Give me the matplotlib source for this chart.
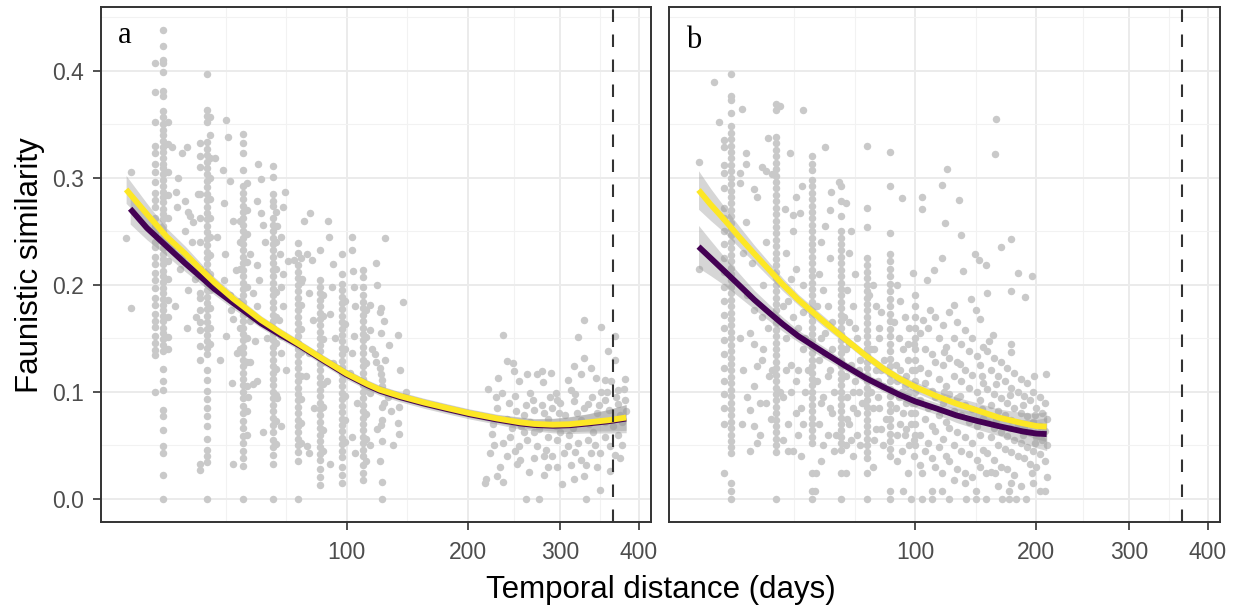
import numpy as np
import matplotlib.pyplot as plt

plt.rcParams['font.family'] = ['Liberation Sans', 'DejaVu Sans']

# ---------------- panel a : faunistic similarity vs temporal distance ----------------
a_col12 = [0.407, 0.380, 0.352, 0.330, 0.323, 0.313, 0.305, 0.296, 0.286, 0.279, 0.273, 0.262, 0.255,
           0.248, 0.240, 0.235, 0.226, 0.219, 0.211, 0.204, 0.197, 0.188, 0.181, 0.173, 0.166, 0.161,
           0.152, 0.146, 0.139, 0.134, 0.100]
a_col14 = [0.438, 0.423, 0.410, 0.407, 0.399, 0.381, 0.376, 0.362, 0.357, 0.350, 0.345, 0.340, 0.334,
           0.329, 0.324, 0.318, 0.313, 0.309, 0.303, 0.298, 0.292, 0.287, 0.282, 0.277, 0.271, 0.266,
           0.261, 0.255, 0.250, 0.245, 0.240, 0.234, 0.229, 0.224, 0.219, 0.213, 0.208, 0.203, 0.197,
           0.192, 0.187, 0.181, 0.176, 0.171, 0.166, 0.160, 0.155, 0.149, 0.144, 0.138, 0.121, 0.110,
           0.102, 0.083, 0.077, 0.064, 0.049, 0.043, 0.022, 0.0]
a_col15 = [0.352, 0.331, 0.305, 0.284, 0.262, 0.241, 0.222, 0.205, 0.186, 0.170, 0.151, 0.140]
a_col25 = [0.332, 0.320, 0.310, 0.285, 0.262, 0.240, 0.215, 0.192, 0.188, 0.176, 0.165, 0.158, 0.143,
           0.130, 0.027, 0.033]
a_col27 = [0.397, 0.363, 0.358, 0.352, 0.333, 0.327, 0.321, 0.315, 0.309, 0.303, 0.297, 0.291, 0.285,
           0.279, 0.273, 0.267, 0.261, 0.255, 0.249, 0.243, 0.237, 0.231, 0.225, 0.219, 0.213, 0.207,
           0.201, 0.195, 0.189, 0.183, 0.177, 0.171, 0.165, 0.159, 0.153, 0.147, 0.141, 0.135, 0.120,
           0.111, 0.101, 0.093, 0.085, 0.077, 0.068, 0.056, 0.046, 0.040, 0.034, 0.0]
a_col28 = [0.357, 0.340, 0.318, 0.300, 0.280, 0.262, 0.245, 0.228, 0.210, 0.195, 0.178, 0.160, 0.145]
a_col40 = [0.260, 0.240, 0.215, 0.185, 0.160, 0.140]
a_col42 = [0.341, 0.332, 0.323, 0.307, 0.292, 0.286, 0.280, 0.274, 0.268, 0.262, 0.256, 0.250, 0.244,
           0.238, 0.232, 0.226, 0.220, 0.214, 0.208, 0.202, 0.196, 0.190, 0.184, 0.178, 0.172, 0.166,
           0.160, 0.154, 0.148, 0.142, 0.136, 0.130, 0.124, 0.118, 0.112, 0.106, 0.100, 0.094, 0.087,
           0.080, 0.073, 0.066, 0.059, 0.052, 0.045, 0.038, 0.031, 0.0]
a_col43 = [0.295, 0.270, 0.247, 0.221, 0.198, 0.175, 0.150, 0.128, 0.105, 0.082, 0.060]
a_col56 = [0.311, 0.301, 0.285, 0.278, 0.274, 0.262, 0.256, 0.250, 0.244, 0.238, 0.232, 0.226, 0.220,
           0.214, 0.208, 0.202, 0.196, 0.190, 0.184, 0.178, 0.172, 0.166, 0.160, 0.154, 0.148, 0.142,
           0.136, 0.130, 0.124, 0.118, 0.112, 0.106, 0.100, 0.094, 0.088, 0.082, 0.076, 0.069, 0.062,
           0.055, 0.048, 0.041, 0.033, 0.0]
a_col57 = [0.268, 0.240, 0.215, 0.193, 0.170, 0.146, 0.121, 0.097, 0.073, 0.051]
a_col70 = [0.239, 0.230, 0.218, 0.212, 0.206, 0.200, 0.194, 0.188, 0.182, 0.176, 0.170, 0.164, 0.158,
           0.152, 0.146, 0.140, 0.134, 0.128, 0.122, 0.116, 0.110, 0.104, 0.098, 0.092, 0.086, 0.080,
           0.074, 0.068, 0.062, 0.056, 0.050, 0.044, 0.035, 0.0]
a_col71 = [0.225, 0.203, 0.181, 0.159, 0.137, 0.115, 0.093, 0.071, 0.052]
a_col84 = [0.232, 0.204, 0.198, 0.192, 0.186, 0.180, 0.174, 0.168, 0.162, 0.156, 0.150, 0.144, 0.138,
           0.132, 0.126, 0.120, 0.114, 0.108, 0.102, 0.096, 0.090, 0.084, 0.078, 0.072, 0.066, 0.060,
           0.054, 0.048, 0.042, 0.036, 0.028, 0.020, 0.013]
a_col85 = [0.190, 0.171, 0.149, 0.128, 0.107, 0.086, 0.064, 0.045]
a_col98 = [0.229, 0.210, 0.201, 0.195, 0.189, 0.183, 0.177, 0.171, 0.165, 0.159, 0.153, 0.147, 0.141,
           0.135, 0.129, 0.123, 0.117, 0.111, 0.105, 0.099, 0.093, 0.087, 0.081, 0.075, 0.069, 0.063,
           0.057, 0.051, 0.045, 0.039, 0.030, 0.022, 0.015]
a_col99 = [0.185, 0.163, 0.140, 0.118, 0.096, 0.074, 0.053]
a_col112 = [0.214, 0.207, 0.198, 0.190, 0.184, 0.178, 0.172, 0.166, 0.160, 0.154, 0.148, 0.142, 0.136,
            0.130, 0.124, 0.118, 0.112, 0.106, 0.100, 0.094, 0.088, 0.082, 0.076, 0.070, 0.064, 0.058,
            0.052, 0.046, 0.040, 0.032, 0.024, 0.018]
a_col114 = [0.176, 0.151, 0.127, 0.104, 0.079, 0.056, 0.035]

a_columns = [(11.8, a_col12), (13.9, a_col14), (15.2, a_col15), (24.8, a_col25), (27.1, a_col27),
             (28.3, a_col28), (40.3, a_col40), (41.8, a_col42), (43.2, a_col43), (55.7, a_col56),
             (57.3, a_col57), (69.6, a_col70), (71.4, a_col71), (82.6, a_col84), (84.6, a_col85),
             (96.6, a_col98), (98.8, a_col99), (111.7, a_col112), (114.0, a_col114)]

a_extra = [(6.0, 0.244), (6.8, 0.305), (6.8, 0.178),
           (16.1, 0.329), (18.9, 0.323), (20.7, 0.329), (17.4, 0.287), (19.8, 0.278), (17.6, 0.273),
           (21.0, 0.268), (21.5, 0.264), (22.5, 0.259), (24.2, 0.285), (18.0, 0.300), (20.0, 0.250),
           (22.0, 0.240), (16.5, 0.236), (19.0, 0.226), (23.0, 0.205), (21.0, 0.195), (17.0, 0.180),
           (18.5, 0.215), (23.5, 0.170), (20.5, 0.160),
           (34.4, 0.354), (35.3, 0.338), (33.2, 0.307), (33.8, 0.276), (36.0, 0.297), (37.5, 0.260),
           (34.0, 0.229), (33.5, 0.204), (36.0, 0.190), (36.5, 0.176), (37.5, 0.168), (34.5, 0.152),
           (39.0, 0.136), (37.0, 0.108), (37.5, 0.033), (31.0, 0.245), (30.0, 0.318), (38.5, 0.214),
           (32.0, 0.130),
           (48.5, 0.313), (50.0, 0.299), (48.0, 0.278), (50.0, 0.267), (51.0, 0.256), (45.0, 0.229),
           (48.0, 0.218), (49.0, 0.204), (46.0, 0.192), (48.0, 0.180), (45.0, 0.166), (47.0, 0.147),
           (45.0, 0.128), (48.0, 0.110), (46.0, 0.107), (52.0, 0.240), (53.0, 0.150), (44.0, 0.095),
           (51.0, 0.062),
           (62.0, 0.287), (61.0, 0.273), (58.0, 0.255), (60.0, 0.245), (59.5, 0.229), (61.0, 0.210),
           (60.0, 0.198), (61.0, 0.180), (59.0, 0.167), (60.0, 0.152), (60.0, 0.136), (60.0, 0.068),
           (63.0, 0.120), (58.0, 0.094), (64.0, 0.222),
           (76.4, 0.267), (73.0, 0.260), (75.0, 0.229), (77.5, 0.223), (76.0, 0.192), (78.0, 0.167),
           (76.0, 0.136), (75.0, 0.049), (76.0, 0.043), (67.0, 0.223), (74.0, 0.115), (79.0, 0.085),
           (72.0, 0.205),
           (87.7, 0.260), (88.5, 0.245), (91.0, 0.219), (90.5, 0.198), (89.0, 0.173), (91.0, 0.127),
           (89.0, 0.033), (92.0, 0.150), (87.0, 0.110),
           (103.4, 0.245), (104.0, 0.232), (104.5, 0.213), (105.0, 0.198), (106.0, 0.180),
           (105.0, 0.152), (104.0, 0.136), (104.0, 0.058), (106.0, 0.043), (102.0, 0.118), (107.0, 0.090),
           (121.0, 0.220), (116.5, 0.181), (117.0, 0.158), (117.0, 0.099), (117.0, 0.050), (128.0, 0.244),
           (125.0, 0.178), (124.0, 0.175), (127.0, 0.166), (125.0, 0.155), (131.0, 0.144), (124.0, 0.122),
           (125.0, 0.117), (126.0, 0.111), (126.0, 0.105), (126.0, 0.086), (126.0, 0.074), (125.0, 0.069),
           (126.0, 0.054), (126.0, 0.016), (126.0, 0.0), (142.0, 0.184), (138.0, 0.153), (139.0, 0.086),
           (138.0, 0.071), (139.0, 0.061), (134.0, 0.050), (122.0, 0.200), (120.0, 0.135), (130.0, 0.095),
           (122.0, 0.065), (128.0, 0.130), (140.0, 0.120), (145.0, 0.100), (118.0, 0.140), (124.0, 0.035),
           (133.0, 0.082), (121.0, 0.128), (127.0, 0.090)]

a_late = [(235.4, 0.153), (328.0, 0.167), (350.5, 0.161), (321.6, 0.151), (359.2, 0.138), (368.0, 0.152),
          (368.0, 0.130), (329.2, 0.132), (315.8, 0.124), (337.6, 0.122), (239.7, 0.129), (246.0, 0.127),
          (230.8, 0.113), (247.0, 0.119), (252.5, 0.110), (261.8, 0.117), (273.0, 0.117), (279.0, 0.119),
          (288.5, 0.118), (279.5, 0.109), (220.5, 0.103), (234.3, 0.099), (249.0, 0.096), (265.5, 0.099),
          (308.5, 0.111), (325.0, 0.117), (344.0, 0.113), (354.8, 0.111), (363.6, 0.110), (381.4, 0.112),
          (380.0, 0.103), (294.4, 0.099), (312.5, 0.102), (350.5, 0.100), (260.0, 0.088), (269.3, 0.083),
          (280.7, 0.080), (296.4, 0.092), (316.6, 0.091), (333.4, 0.089), (354.8, 0.092), (372.4, 0.089),
          (223.9, 0.061), (236.0, 0.052), (243.3, 0.058), (252.5, 0.049), (261.8, 0.055), (273.0, 0.049),
          (282.6, 0.046), (296.4, 0.055), (308.5, 0.049), (320.8, 0.052), (333.4, 0.055), (354.8, 0.058),
          (361.4, 0.049), (222.0, 0.043), (239.7, 0.040), (254.3, 0.036), (269.3, 0.038), (280.7, 0.040),
          (304.4, 0.043), (325.0, 0.036), (337.6, 0.043), (348.4, 0.043), (368.0, 0.041), (232.5, 0.030),
          (250.7, 0.033), (296.4, 0.030), (312.5, 0.032), (331.3, 0.032), (361.4, 0.026), (216.7, 0.015),
          (218.4, 0.019), (229.0, 0.021), (236.0, 0.016), (280.7, 0.022), (302.4, 0.014), (316.6, 0.019),
          (329.2, 0.021), (348.4, 0.008), (260.0, 0.0), (275.0, 0.0), (331.3, 0.0),
          (225.0, 0.070), (240.0, 0.075), (255.0, 0.068), (265.0, 0.072), (275.0, 0.065), (285.0, 0.075),
          (295.0, 0.068), (305.0, 0.078), (315.0, 0.066), (325.0, 0.074), (335.0, 0.070), (345.0, 0.080),
          (355.0, 0.072), (365.0, 0.068), (375.0, 0.078), (383.0, 0.082), (230.0, 0.085), (250.0, 0.082),
          (290.0, 0.085), (310.0, 0.060), (340.0, 0.062), (370.0, 0.095), (378.0, 0.072), (360.0, 0.083),
          (245.0, 0.066), (300.0, 0.090), (285.0, 0.058), (320.0, 0.080), (270.0, 0.062),
          (228.0, 0.095), (242.0, 0.090), (258.0, 0.078), (268.0, 0.092), (278.0, 0.088), (288.0, 0.095),
          (298.0, 0.080), (318.0, 0.098), (328.0, 0.085), (338.0, 0.095), (348.0, 0.088), (358.0, 0.100),
          (372.0, 0.102), (382.0, 0.092), (226.0, 0.050), (248.0, 0.045), (258.0, 0.062), (290.0, 0.040),
          (300.0, 0.062), (318.0, 0.044), (342.0, 0.050), (372.0, 0.060), (378.0, 0.050), (264.0, 0.025),
          (286.0, 0.030), (345.0, 0.030), (375.0, 0.038)]

# fitted curves (yellow / purple) and their confidence half-widths, panel a
a_fit_days = [6.0, 10, 14.7, 20, 24.8, 30, 37.4, 50, 60, 70.6, 85, 100, 115, 124, 140, 160, 180, 202, 230,
              254, 270, 291, 310, 332, 360, 383]
a_yellow = [0.289, 0.266, 0.245, 0.229, 0.215, 0.202, 0.187, 0.167, 0.155, 0.144, 0.130, 0.117, 0.107,
            0.102, 0.096, 0.090, 0.085, 0.080, 0.075, 0.0715, 0.070, 0.0693, 0.0697, 0.0713, 0.0735, 0.076]
a_purple_days = [6.7, 10, 14.7, 20, 24.8, 30, 37.4, 50, 60, 70.6, 85, 100, 115, 124, 140, 160, 180, 202,
                 230, 254, 270, 291, 310, 332, 360, 383]
a_purple = [0.271, 0.253, 0.236, 0.220, 0.208, 0.196, 0.183, 0.164, 0.153, 0.143, 0.129, 0.116, 0.106,
            0.101, 0.095, 0.089, 0.084, 0.079, 0.074, 0.0705, 0.069, 0.0683, 0.0687, 0.0703, 0.0725, 0.075]
a_se = [0.013, 0.010, 0.008, 0.007, 0.006, 0.005, 0.005, 0.004, 0.004, 0.004, 0.004, 0.004, 0.004, 0.004,
        0.004, 0.004, 0.004, 0.004, 0.004, 0.005, 0.005, 0.006, 0.007, 0.008, 0.010, 0.012]

# ---------------- panel b ----------------
b_col12 = [0.335, 0.329, 0.312, 0.304, 0.290, 0.272, 0.262, 0.250, 0.238, 0.225, 0.212, 0.198, 0.185,
           0.172, 0.160, 0.148, 0.135, 0.122, 0.110, 0.098, 0.085, 0.070, 0.024]
b_col14 = [0.397, 0.376, 0.373, 0.360, 0.348, 0.342, 0.336, 0.330, 0.324, 0.318, 0.312, 0.306, 0.300,
           0.294, 0.288, 0.282, 0.276, 0.270, 0.264, 0.258, 0.252, 0.246, 0.240, 0.234, 0.228, 0.222,
           0.216, 0.210, 0.204, 0.198, 0.192, 0.186, 0.180, 0.174, 0.168, 0.162, 0.156, 0.150, 0.144,
           0.138, 0.132, 0.126, 0.120, 0.114, 0.108, 0.102, 0.096, 0.090, 0.084, 0.078, 0.072, 0.066,
           0.060, 0.054, 0.048, 0.043, 0.015, 0.007, 0.0]
b_col27 = [0.369, 0.363, 0.338, 0.332, 0.326, 0.320, 0.314, 0.308, 0.302, 0.296, 0.290, 0.284, 0.278,
           0.272, 0.266, 0.260, 0.254, 0.248, 0.242, 0.236, 0.230, 0.224, 0.218, 0.212, 0.206, 0.200,
           0.194, 0.188, 0.182, 0.176, 0.170, 0.164, 0.158, 0.152, 0.146, 0.140, 0.134, 0.128, 0.122,
           0.116, 0.110, 0.104, 0.098, 0.092, 0.086, 0.080, 0.074, 0.068, 0.062, 0.056, 0.050, 0.044, 0.0]
b_col42 = [0.320, 0.313, 0.307, 0.298, 0.292, 0.286, 0.280, 0.274, 0.268, 0.262, 0.256, 0.250, 0.244,
           0.238, 0.232, 0.226, 0.220, 0.214, 0.208, 0.202, 0.196, 0.190, 0.184, 0.178, 0.172, 0.166,
           0.160, 0.154, 0.148, 0.142, 0.136, 0.130, 0.124, 0.118, 0.112, 0.106, 0.100, 0.094, 0.088,
           0.082, 0.076, 0.070, 0.064, 0.058, 0.052, 0.024, 0.007, 0.0]
b_col55 = [0.292, 0.278, 0.264, 0.250, 0.244, 0.238, 0.232, 0.226, 0.220, 0.214, 0.208, 0.202, 0.196,
           0.190, 0.184, 0.178, 0.172, 0.166, 0.160, 0.154, 0.148, 0.142, 0.136, 0.130, 0.124, 0.118,
           0.112, 0.106, 0.100, 0.094, 0.088, 0.082, 0.076, 0.070, 0.064, 0.058, 0.052, 0.046, 0.024, 0.0]
b_col70 = [0.330, 0.272, 0.254, 0.225, 0.218, 0.212, 0.206, 0.200, 0.194, 0.188, 0.182, 0.176, 0.170,
           0.164, 0.158, 0.152, 0.146, 0.140, 0.134, 0.128, 0.122, 0.116, 0.110, 0.104, 0.098, 0.092,
           0.086, 0.080, 0.074, 0.068, 0.062, 0.056, 0.050, 0.044, 0.038, 0.024, 0.0]
b_col84 = [0.324, 0.292, 0.248, 0.229, 0.222, 0.215, 0.208, 0.201, 0.194, 0.187, 0.180, 0.173, 0.166,
           0.159, 0.152, 0.145, 0.138, 0.131, 0.124, 0.117, 0.110, 0.103, 0.096, 0.089, 0.082, 0.075,
           0.068, 0.061, 0.054, 0.047, 0.040, 0.007, 0.0]
b_col100 = [0.190, 0.180, 0.170, 0.160, 0.150, 0.140, 0.130, 0.120, 0.110, 0.100, 0.090, 0.080, 0.070,
            0.060, 0.050]

b_columns = [(12.0, b_col12), (13.6, b_col14), (27.5, b_col27), (41.7, b_col42), (55.4, b_col55),
             (69.5, b_col70), (83.7, b_col84), (100.0, b_col100)]

# later lags of panel b are spread out rather than in clean columns
b_late = [(103, [0.155, 0.122, 0.092, 0.060, 0.032]), (106.5, [0.140, 0.108, 0.075, 0.045]),
          (109, [0.160, 0.118, 0.085, 0.052]), (111.5, [0.135, 0.101, 0.068, 0.038]),
          (114, [0.170, 0.128, 0.095, 0.063, 0.030]), (117, [0.150, 0.112, 0.078, 0.048]),
          (119.5, [0.162, 0.125, 0.090, 0.056]), (120.5, [0.137, 0.100]),
          (122, [0.142, 0.105, 0.072, 0.040]), (124.5, [0.175, 0.132, 0.098, 0.066, 0.035]),
          (128, [0.150, 0.115, 0.082, 0.050, 0.018]), (130.5, [0.165, 0.128, 0.094, 0.062, 0.028]),
          (133, [0.126, 0.096]), (134, [0.145, 0.110, 0.078, 0.045]),
          (136.5, [0.158, 0.120, 0.088, 0.058, 0.015]), (140, [0.138, 0.104, 0.072, 0.042]),
          (142.5, [0.150, 0.116, 0.084, 0.052, 0.020]), (146.5, [0.133, 0.100, 0.068, 0.036]),
          (149, [0.168, 0.125, 0.092, 0.060, 0.030]), (151, [0.115, 0.084]),
          (152, [0.142, 0.108, 0.076, 0.046]), (155, [0.138, 0.103, 0.072, 0.043]),
          (158.5, [0.120, 0.088, 0.058, 0.025]), (161, [0.132, 0.098, 0.066, 0.036]),
          (163, [0.107, 0.074]), (164.5, [0.115, 0.082, 0.050, 0.012]),
          (167, [0.128, 0.094, 0.062, 0.030]), (170.5, [0.110, 0.078, 0.047]),
          (173, [0.122, 0.090, 0.059, 0.028]), (175, [0.097, 0.066]),
          (176.5, [0.104, 0.074, 0.044, 0.015]), (179, [0.118, 0.085, 0.055, 0.022]),
          (182.5, [0.100, 0.070, 0.040]), (185, [0.112, 0.080, 0.052, 0.012]),
          (187, [0.088, 0.060]), (188.5, [0.096, 0.066, 0.038]), (191, [0.108, 0.077, 0.048]),
          (194, [0.092, 0.062, 0.033]), (197, [0.100, 0.072, 0.045, 0.015]), (199, [0.078, 0.052]),
          (200, [0.085, 0.058, 0.030]), (203, [0.095, 0.068, 0.042]), (205.5, [0.080, 0.055]),
          (208, [0.090, 0.063, 0.035]), (210, [0.075, 0.050, 0.020])]

b_extra = [(6.7, 0.315), (6.7, 0.215), (9.7, 0.389), (10.7, 0.352),
           (16.6, 0.364), (17.6, 0.323), (17.6, 0.313), (16.0, 0.304), (16.0, 0.295), (17.6, 0.259),
           (20.2, 0.289), (21.0, 0.282), (22.6, 0.310), (23.9, 0.306), (25.9, 0.303), (24.5, 0.337),
           (20.2, 0.176), (22.6, 0.170), (19.0, 0.155), (20.0, 0.145), (21.0, 0.124), (20.2, 0.105),
           (19.0, 0.083), (20.2, 0.068), (21.0, 0.052), (22.6, 0.130), (24.0, 0.240), (19.5, 0.220),
           (23.0, 0.200), (17.0, 0.230), (25.0, 0.115), (18.0, 0.190), (24.0, 0.090), (22.0, 0.060),
           (29.0, 0.367), (30.7, 0.271), (33.7, 0.265), (36.5, 0.267), (35.2, 0.282), (37.5, 0.292),
           (32.6, 0.323), (37.9, 0.363), (33.7, 0.250), (31.0, 0.230), (35.0, 0.215), (38.0, 0.200),
           (32.0, 0.185), (34.0, 0.170), (36.0, 0.160), (31.0, 0.150), (38.0, 0.140), (33.0, 0.125),
           (35.0, 0.110), (30.0, 0.095), (37.0, 0.085), (32.0, 0.070), (36.0, 0.060), (34.0, 0.045),
           (39.0, 0.100), (30.0, 0.055), (38.0, 0.175), (33.0, 0.205),
           (47.9, 0.329), (50.6, 0.287), (54.4, 0.296), (50.0, 0.270), (48.0, 0.255), (46.0, 0.240),
           (50.0, 0.225), (45.0, 0.210), (47.0, 0.195), (49.0, 0.180), (51.0, 0.165), (46.0, 0.150),
           (48.0, 0.135), (50.0, 0.120), (44.0, 0.110), (47.0, 0.095), (51.0, 0.080), (45.0, 0.070),
           (49.0, 0.060), (43.5, 0.024), (43.0, 0.007), (52.0, 0.045), (46.0, 0.035),
           (58.4, 0.276), (58.0, 0.024), (61.0, 0.250), (60.0, 0.230), (63.0, 0.210), (59.0, 0.195),
           (62.0, 0.180), (60.0, 0.165), (64.0, 0.150), (58.0, 0.140), (61.0, 0.125), (63.0, 0.110),
           (59.0, 0.095), (62.0, 0.085), (60.0, 0.070), (64.0, 0.060), (58.0, 0.050), (62.0, 0.040),
           (65.0, 0.100), (66.0, 0.130),
           (73.0, 0.200), (75.0, 0.180), (76.7, 0.160), (74.0, 0.140), (78.0, 0.120), (72.0, 0.100),
           (77.0, 0.085), (75.0, 0.065), (79.0, 0.050), (73.0, 0.030), (76.0, 0.110), (78.0, 0.175),
           (91.0, 0.281), (98.2, 0.211), (92.0, 0.007), (97.0, 0.0), (95.0, 0.024), (88.0, 0.200),
           (90.0, 0.185), (93.0, 0.170), (96.0, 0.160), (89.0, 0.150), (92.0, 0.140), (95.0, 0.130),
           (98.0, 0.120), (88.0, 0.110), (91.0, 0.100), (94.0, 0.090), (97.0, 0.080), (90.0, 0.070),
           (93.0, 0.060), (96.0, 0.050), (99.0, 0.040), (88.0, 0.035), (99.0, 0.145), (94.0, 0.115),
           (87.0, 0.085),
           (16.0, 0.150), (17.0, 0.120), (18.0, 0.095), (16.5, 0.070), (19.0, 0.045), (22.0, 0.090),
           (23.0, 0.140), (24.5, 0.160), (25.5, 0.075), (26.0, 0.120), (29.0, 0.100), (30.0, 0.180),
           (31.0, 0.120), (32.0, 0.045), (33.0, 0.100), (35.0, 0.080), (36.0, 0.120), (37.0, 0.040),
           (38.0, 0.070), (39.0, 0.150), (40.0, 0.120), (44.0, 0.180), (45.0, 0.130), (46.0, 0.090),
           (47.0, 0.050), (48.0, 0.155), (49.0, 0.115), (50.0, 0.085), (51.0, 0.140), (52.0, 0.100),
           (53.0, 0.060), (57.0, 0.170), (58.0, 0.115), (59.0, 0.075), (60.0, 0.145), (61.0, 0.055),
           (62.0, 0.100), (63.0, 0.160), (64.0, 0.080), (65.0, 0.120), (66.0, 0.050), (67.0, 0.090),
           (71.0, 0.190), (72.0, 0.140), (73.0, 0.085), (74.0, 0.055), (75.0, 0.120), (76.0, 0.095),
           (77.0, 0.150), (78.0, 0.065), (79.0, 0.105), (80.0, 0.130), (81.0, 0.075), (86.0, 0.165),
           (87.0, 0.125), (88.0, 0.060), (89.0, 0.095), (90.0, 0.120), (91.0, 0.045), (92.0, 0.080),
           (93.0, 0.105), (94.0, 0.065), (95.0, 0.145), (96.0, 0.100), (97.0, 0.070), (98.0, 0.090),
           (99.0, 0.055),
           (104.8, 0.282), (104.8, 0.271), (108.0, 0.204), (113.0, 0.214), (119.0, 0.225), (121.0, 0.258),
           (123.0, 0.308), (119.0, 0.293), (132.0, 0.279), (135.5, 0.213), (134.0, 0.246), (145.0, 0.229),
           (148.0, 0.223), (154.0, 0.218), (162.6, 0.355), (162.0, 0.322), (167.0, 0.235), (176.0, 0.243),
           (183.0, 0.211), (196.0, 0.208), (189.0, 0.189), (176.0, 0.194), (155.0, 0.192), (142.0, 0.187),
           (146.0, 0.176), (160.0, 0.153), (157.0, 0.147), (176.0, 0.145), (176.0, 0.137), (198.0, 0.115),
           (209.0, 0.117), (128.0, 0.181), (110.0, 0.176), (105.0, 0.167), (104.8, 0.0), (112.0, 0.0),
           (124.5, 0.0), (138.0, 0.0), (146.0, 0.0), (154.0, 0.0), (168.0, 0.0), (174.0, 0.0), (181.0, 0.0),
           (190.0, 0.0), (112.0, 0.007), (119.0, 0.007), (146.0, 0.007), (174.0, 0.007), (203.0, 0.007),
           (208.0, 0.007), (104.8, 0.024), (119.0, 0.024), (137.0, 0.024), (154.0, 0.024), (162.0, 0.024),
           (196.0, 0.024)]

b_fit_days = [6.7, 9, 12, 16, 20.2, 25, 30, 36, 47, 58, 68.8, 80, 89.8, 100, 116, 130, 146, 165, 187,
              200, 210]
b_yellow = [0.2885, 0.275, 0.261, 0.244, 0.229, 0.214, 0.200, 0.186, 0.166, 0.149, 0.134, 0.121, 0.112,
            0.1045, 0.0955, 0.089, 0.083, 0.076, 0.0706, 0.068, 0.0675]
b_purple = [0.2356, 0.225, 0.213, 0.199, 0.186, 0.174, 0.163, 0.152, 0.137, 0.124, 0.113, 0.104, 0.097,
            0.091, 0.084, 0.078, 0.073, 0.068, 0.063, 0.061, 0.0605]
b_se = [0.018, 0.015, 0.012, 0.010, 0.008, 0.007, 0.006, 0.005, 0.005, 0.004, 0.004, 0.004, 0.004,
        0.005, 0.005, 0.006, 0.007, 0.008, 0.010, 0.012, 0.014]

x_breaks = [100, 200, 300, 400]
y_breaks = [0.0, 0.1, 0.2, 0.3, 0.4]
y_minor = [0.05, 0.15, 0.25, 0.35, 0.45]
year_line = 365


def collect(columns, extra):
    xs, ys = [], []
    for day, vals in columns:
        xs += [day] * len(vals)
        ys += vals
    for day, val in extra:
        xs.append(day)
        ys.append(val)
    return xs, ys


# minor grid lines sit half way between breaks on the sqrt scale (ggplot style)
sq = np.sqrt(x_breaks)
x_minor = list((sq[:-1] + np.diff(sq) / 2) ** 2) + [(sq[0] - np.diff(sq)[0]) ** 2,
                                                   (sq[0] - np.diff(sq)[0] / 2) ** 2]

fig = plt.figure(figsize=(12.39, 6.07), dpi=100)
ax_a = fig.add_axes([0.0815, 0.1395, 0.4439, 0.8484])
ax_b = fig.add_axes([0.5402, 0.1395, 0.4445, 0.8484])

a_x, a_y = collect(a_columns, a_extra + a_late)
b_x, b_y = collect(b_columns + b_late, b_extra)

panels = [
    (ax_a, a_x, a_y, a_fit_days, a_yellow, a_purple_days, a_purple, a_se, 'a', 0.930),
    (ax_b, b_x, b_y, b_fit_days, b_yellow, b_fit_days, b_purple, b_se, 'b', 0.922),
]

for ax, px, py, fd, yel, pd_, pur, se, tag, tag_y in panels:
    ax.set_xscale('function', functions=(lambda v: np.sqrt(np.clip(v, 0, None)), np.square))
    ax.scatter(px, py, s=29, color='#C9C9C9', linewidths=0, zorder=2)
    se = np.array(se)
    ax.fill_between(pd_, np.array(pur) - se * 1.1, np.array(pur) + se * 1.1,
                    color='#999999', alpha=0.4, lw=0, zorder=3)
    ax.fill_between(fd, np.array(yel) - se, np.array(yel) + se,
                    color='#999999', alpha=0.4, lw=0, zorder=3)
    ax.plot(pd_, pur, color='#440154', lw=4.2, solid_capstyle='butt', solid_joinstyle='round', zorder=4)
    ax.plot(fd, yel, color='#FDE725', lw=4.2, solid_capstyle='butt', solid_joinstyle='round', zorder=5)
    ax.axvline(year_line, color='#333333', lw=1.5, ls=(0, (6, 6)), zorder=6)

    ax.set_xlim(2.525, 417)
    ax.set_ylim(-0.0219, 0.4591)
    ax.set_xticks(x_breaks)
    ax.set_xticklabels([str(v) for v in x_breaks])
    ax.set_xticks(x_minor, minor=True)
    ax.set_yticks(y_breaks)
    ax.set_yticklabels(['%.1f' % v for v in y_breaks])
    ax.set_yticks(y_minor, minor=True)
    ax.grid(True, which='major', color='#EBEBEB', lw=1.4, zorder=0)
    ax.grid(True, which='minor', color='#F2F2F2', lw=0.8, zorder=0)
    ax.set_axisbelow(True)
    ax.tick_params(which='major', length=6, width=1.2, color='#333333',
                   labelsize=16.5, labelcolor='#4D4D4D')
    ax.tick_params(axis='x', pad=7.5)
    ax.tick_params(axis='y', pad=6)
    ax.tick_params(which='minor', length=0)
    for sp in ax.spines.values():
        sp.set_color('#333333')
        sp.set_linewidth(1.4)
    ax.text(0.031, tag_y, tag, transform=ax.transAxes, fontsize=22,
            family=['Liberation Serif', 'DejaVu Serif'], va='baseline', ha='left')

ax_b.tick_params(axis='y', which='both', left=False, labelleft=False)

fig.text(0.5335, 0.0148, 'Temporal distance (days)', fontsize=22.5, ha='center', va='baseline')
fig.text(0.012, 0.5638, 'Faunistic similarity', fontsize=22.5, rotation=90, ha='left', va='center')

fig.savefig('out.png', dpi=100)
